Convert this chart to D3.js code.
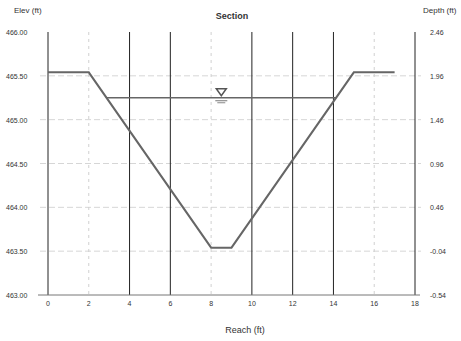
<!DOCTYPE html>
<html>
<head>
<meta charset="utf-8">
<script src="https://cdn.jsdelivr.net/npm/d3@7"></script>
<style>
body { margin:0; background:#fff; }
text { font-family: "Liberation Sans", Arial, sans-serif; fill:#333; }
</style>
</head>
<body>
<svg id="chart" width="461" height="341"></svg>
<script>
// channel section (reach ft, elev ft)
var reach = [0, 2, 8, 9, 15, 17];
var elev = [465.54, 465.54, 463.54, 463.54, 465.54, 465.54];
var waterElev = 465.25;
var xTicks = [0, 2, 4, 6, 8, 10, 12, 14, 16, 18];
var yTicks = [463.00, 463.50, 464.00, 464.50, 465.00, 465.50, 466.00];
var depthLabels = ["-0.54", "-0.04", "0.46", "0.96", "1.46", "1.96", "2.46"];
var darkX = [0, 4, 6, 10, 12, 14, 18];

var svg = d3.select("#chart");
var margin = {left: 48, right: 46, top: 32, bottom: 46};
var width = 461 - margin.left - margin.right;
var height = 341 - margin.top - margin.bottom;

var x = d3.scaleLinear().domain([0, 18]).range([margin.left, margin.left + width]);
var y = d3.scaleLinear().domain([463, 466]).range([margin.top + height, margin.top]);

var g = svg.append("g");

// horizontal grid, faded like the scan
g.selectAll(".hgrid").data(yTicks.slice(1, 6)).enter().append("line")
  .attr("x1", x(0) - 8).attr("x2", x(18) + 6)
  .attr("y1", function(d) { return y(d); }).attr("y2", function(d) { return y(d); })
  .attr("stroke", "#d6d6d6").attr("stroke-width", 1).attr("stroke-dasharray", "6,3");

// vertical grid
g.selectAll(".vgrid").data(xTicks).enter().append("line")
  .attr("x1", function(d) { return x(d); }).attr("x2", function(d) { return x(d); })
  .attr("y1", y(466)).attr("y2", y(463))
  .attr("stroke", function(d) { return darkX.indexOf(d) >= 0 ? "#222" : "#d0d0d0"; })
  .attr("stroke-width", 1)
  .attr("stroke-dasharray", function(d) { return darkX.indexOf(d) >= 0 ? null : "3,4"; });

// bottom axis line
g.append("line").attr("x1", x(0) - 10).attr("x2", x(18) + 5)
  .attr("y1", y(463)).attr("y2", y(463)).attr("stroke", "#777");

// water surface
var wl = reach[1] + (elev[1] - waterElev) / (elev[1] - elev[2]) * (reach[2] - reach[1]);
var wr = reach[4] - (elev[4] - waterElev) / (elev[4] - elev[3]) * (reach[4] - reach[3]);
g.append("line").attr("x1", x(wl)).attr("x2", x(wr))
  .attr("y1", y(waterElev)).attr("y2", y(waterElev))
  .attr("stroke", "#666").attr("stroke-width", 1.5);

// water symbol
var sx = x(8.5), sy = y(waterElev);
g.append("path")
  .attr("d", "M" + (sx - 5) + "," + (sy - 9) + "L" + (sx + 5) + "," + (sy - 9) + "L" + sx + "," + (sy - 2) + "Z")
  .attr("fill", "none").attr("stroke", "#555").attr("stroke-width", 1.5);
g.append("line").attr("x1", sx - 6).attr("x2", sx + 6).attr("y1", sy + 3).attr("y2", sy + 3).attr("stroke", "#777");
g.append("line").attr("x1", sx - 4).attr("x2", sx + 4).attr("y1", sy + 5).attr("y2", sy + 5).attr("stroke", "#888");

// section line
var line = d3.line().x(function(d, i) { return x(reach[i]); }).y(function(d) { return y(d); });
g.append("path").datum(elev).attr("d", line)
  .attr("fill", "none").attr("stroke", "#666").attr("stroke-width", 2);

// tick labels
g.selectAll(".yl").data(yTicks).enter().append("text")
  .attr("x", 6).attr("y", function(d) { return y(d) + 3; })
  .attr("font-size", 7).text(function(d) { return d.toFixed(2); });
g.selectAll(".yr").data(depthLabels).enter().append("text")
  .attr("x", 430).attr("y", function(d, i) { return y(yTicks[i]) + 3; })
  .attr("font-size", 7).text(function(d) { return d; });
g.selectAll(".xl").data(xTicks).enter().append("text")
  .attr("x", function(d) { return x(d); }).attr("y", y(463) + 11)
  .attr("text-anchor", "middle").attr("font-size", 7).text(function(d) { return d; });

// titles
svg.append("text").attr("x", 14).attr("y", 13).attr("font-size", 8).text("Elev (ft)");
svg.append("text").attr("x", 423).attr("y", 13).attr("font-size", 8).text("Depth (ft)");
svg.append("text").attr("x", 232).attr("y", 19).attr("font-size", 9).attr("font-weight", "bold")
  .attr("text-anchor", "middle").text("Section");
svg.append("text").attr("x", 245).attr("y", 333).attr("font-size", 9)
  .attr("text-anchor", "middle").text("Reach (ft)");
</script>
</body>
</html>
